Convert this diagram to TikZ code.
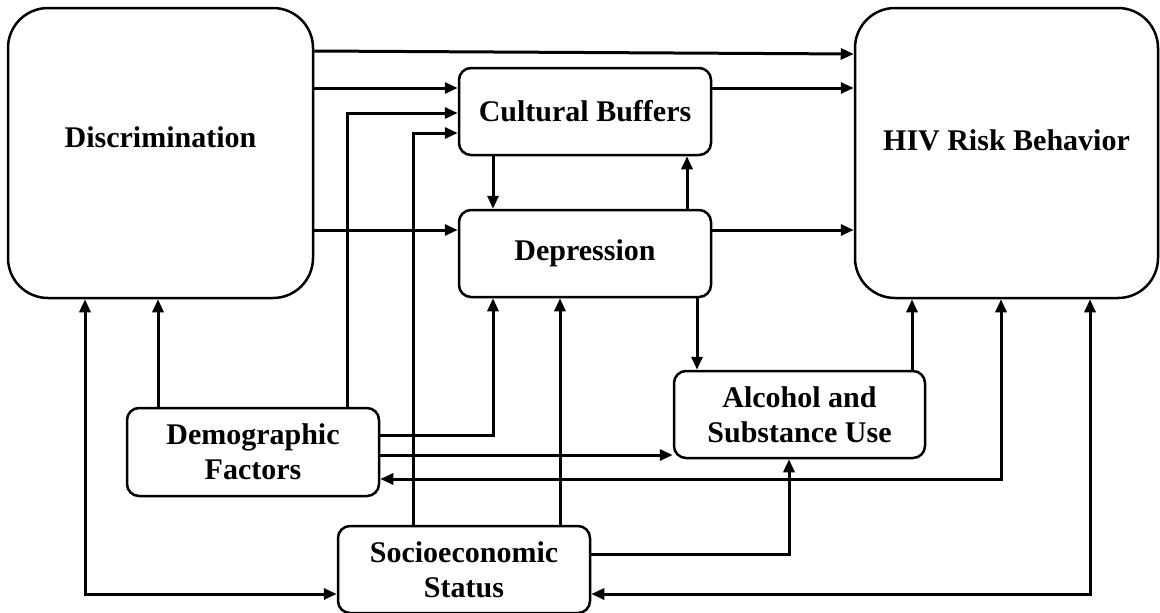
\documentclass[tikz,border=0pt]{standalone}
\usepackage{fontspec}
\setmainfont{Liberation Serif}
\usetikzlibrary{arrows.meta}
\begin{document}
\begin{tikzpicture}[x=1pt,y=-1pt,
  box/.style={draw, line width=2.5pt, rounded corners=12pt, align=center, inner sep=0pt,
    font=\bfseries\fontsize{30}{35}\selectfont},
  bigbox/.style={box, rounded corners=40pt},
  tip/.tip={Triangle[length=13pt,width=11pt]},
  arr/.style={line width=3pt, -tip},
  darr/.style={line width=3pt, tip-tip}]
\useasboundingbox (0,0) rectangle (1160,613);
\fill[white] (0,0) rectangle (1160,613);

\node[bigbox, minimum width=305pt, minimum height=290pt] (disc) at (160.5,153) {\raisebox{32pt}{Discrimination}};
\node[bigbox, minimum width=303pt, minimum height=290pt] (hiv) at (1006.5,153) {\raisebox{26pt}{HIV Risk Behavior}};
\node[box, minimum width=252pt, minimum height=87pt] (cb) at (585,111.5) {Cultural Buffers};
\node[box, minimum width=252pt, minimum height=87pt] (dep) at (585,253.5) {Depression};
\node[box, minimum width=251pt, minimum height=87pt] (alc) at (799.5,414.5) {Alcohol and\\Substance Use};
\node[box, minimum width=252pt, minimum height=88pt] (demo) at (253,452) {Demographic\\Factors};
\node[box, minimum width=252pt, minimum height=87pt] (ses) at (464,569.5) {Socioeconomic\\Status};

% levels
\coordinate (h51) at (0,51);
\coordinate (h54) at (0,54);
\coordinate (h88) at (0,88);
\coordinate (h113) at (0,113);
\coordinate (h133) at (0,133);
\coordinate (h230) at (0,230);
\coordinate (h435) at (0,435);
\coordinate (h455) at (0,455);
\coordinate (h479) at (0,479);
\coordinate (h554) at (0,554);
\coordinate (h594) at (0,594);
\coordinate (v85) at (85,0);
\coordinate (v158) at (158,0);
\coordinate (v347) at (347,0);
\coordinate (v413) at (413,0);
\coordinate (v493) at (493,0);
\coordinate (v560) at (560,0);
\coordinate (v687) at (687,0);
\coordinate (v697) at (697,0);
\coordinate (v789) at (789,0);
\coordinate (v912) at (912,0);
\coordinate (v1001) at (1001,0);
\coordinate (v1090) at (1090,0);

\draw[arr] (disc.east |- h51) -- (hiv.west |- h54);
\draw[arr] (disc.east |- h88) -- (cb.west |- h88);
\draw[arr] (cb.east |- h88) -- (hiv.west |- h88);
\draw[arr] (demo.north -| v347) |- (cb.west |- h113);
\draw[arr] (ses.north -| v413) |- (cb.west |- h133);
\draw[arr] (cb.south -| v493) -- (dep.north -| v493);
\draw[arr] (dep.north -| v687) -- (cb.south -| v687);
\draw[arr] (disc.east |- h230) -- (dep.west |- h230);
\draw[arr] (dep.east |- h230) -- (hiv.west |- h230);
\draw[arr] (demo.north -| v158) -- (disc.south -| v158);
\draw[darr] (disc.south -| v85) |- (ses.west |- h594);
\draw[arr] (demo.east |- h435) -| (dep.south -| v493);
\draw[arr] (ses.north -| v560) -- (dep.south -| v560);
\draw[arr] (dep.south -| v697) -- (alc.north -| v697);
\draw[arr] (alc.north -| v912) -- (hiv.south -| v912);
\draw[darr] (hiv.south -| v1001) |- (demo.east |- h479);
\draw[darr] (hiv.south -| v1090) |- (ses.east |- h594);
\draw[arr] (demo.east |- h455) -- (alc.west |- h455);
\draw[arr] (ses.east |- h554) -| (alc.south -| v789);
\end{tikzpicture}
\end{document}
